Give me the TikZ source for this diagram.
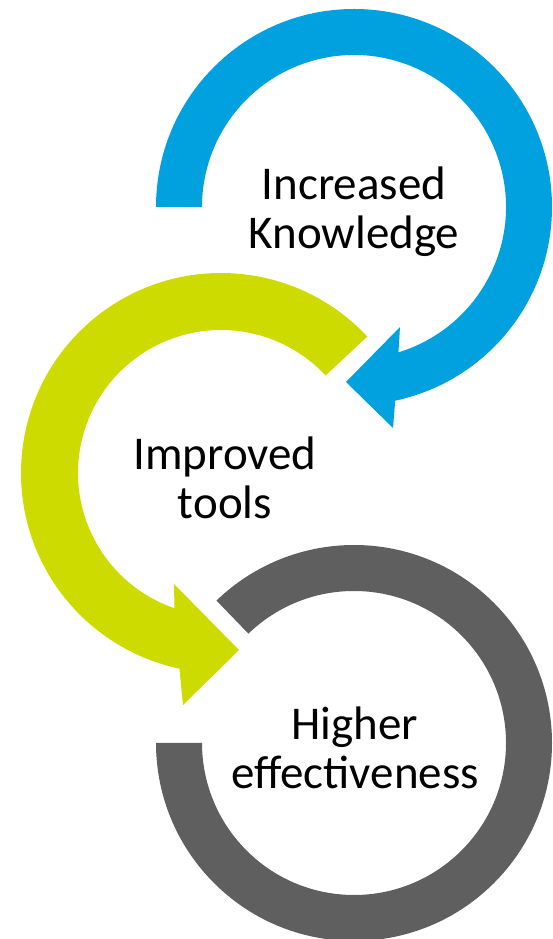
\documentclass[tikz,border=0pt]{standalone}
\usepackage{fontspec}
\setmainfont{Carlito}
\definecolor{knowblue}{RGB}{0,161,222}
\definecolor{toolgreen}{RGB}{205,219,0}
\definecolor{effgray}{RGB}{95,95,95}

\begin{document}
\begin{tikzpicture}[x=1pt,y=1pt,
    looptext/.style={align=center,anchor=base,font=\fontsize{47}{49}\selectfont}]
        \useasboundingbox (0,0) rectangle (553,939);
        \coordinate (kc) at (354,732);
        \coordinate (tc) at (221,466);
        \coordinate (ec) at (354,196);
        % knowledge
        \fill[knowblue] ([shift={(180:198)}]kc) arc[start angle=180,end angle=-78,radius=198]
            -- (393,511) -- (346,557) -- (400,612) -- ([shift={(-73:152)}]kc)
            arc[start angle=-73,end angle=180,radius=152] -- cycle;
        % tools
        \fill[toolgreen] ([shift={(43:200)}]tc) arc[start angle=43,end angle=258,radius=200]
            -- (183,234) -- (239,289) -- (174,355) -- ([shift={(251:143)}]tc)
            arc[start angle=251,end angle=43,radius=143] -- cycle;
        % effectiveness
        \fill[effgray] ([shift={(180:198)}]ec) arc[start angle=180,end angle=494,radius=198]
            -- ([shift={(494:152)}]ec) arc[start angle=494,end angle=180,radius=152] -- cycle;
        \node[looptext] (know) at (354,690.7) {Increased\\Knowledge};
        \node[looptext] (tools) at (225,420.7) {Improved\\tools};
        \node[looptext] (eff) at (355,150.7) {Higher\\effectiveness};
\end{tikzpicture}
\end{document}
